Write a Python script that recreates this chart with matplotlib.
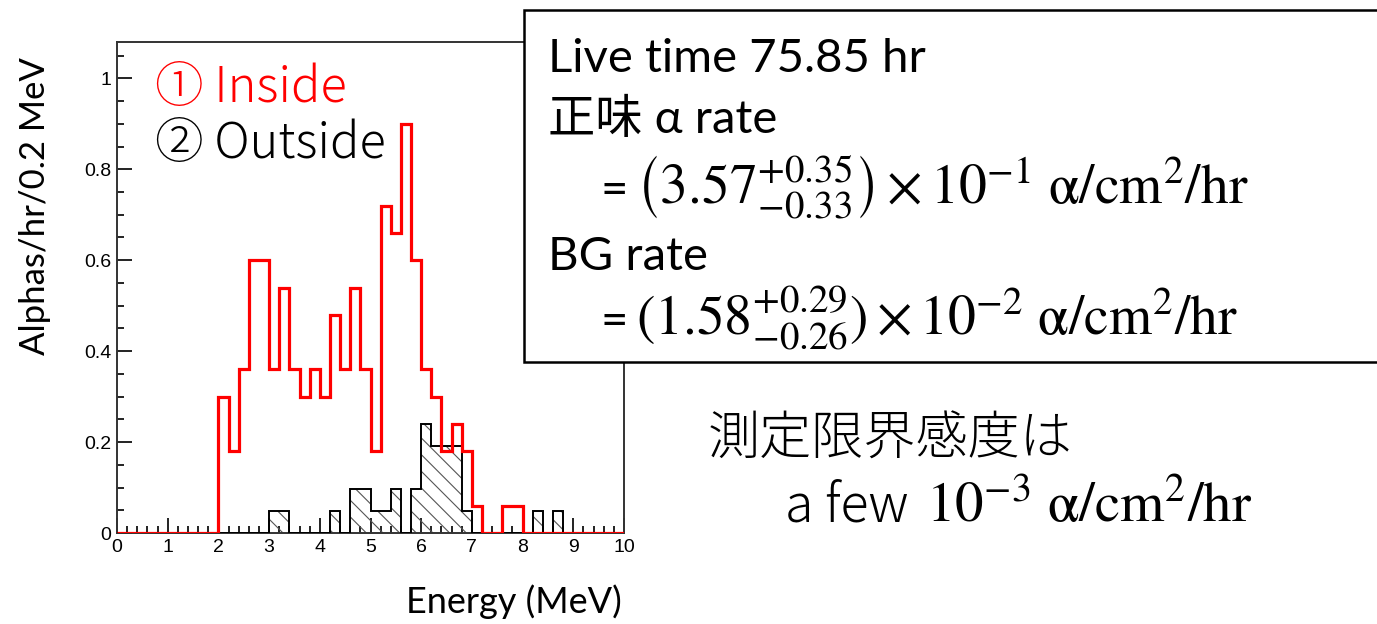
import matplotlib.pyplot as plt
import numpy as np
from matplotlib.patches import Rectangle
from matplotlib.ticker import MultipleLocator, FormatStrFormatter

plt.rcParams['mathtext.fontset'] = 'stix'
plt.rcParams['mathtext.default'] = 'rm'
plt.rcParams['hatch.linewidth'] = 0.8

W, H = 1377, 624

# 0.2 MeV bins from 0 to 10 MeV
edges = np.round(np.arange(0, 10.01, 0.2), 1)

# alpha rate per bin, inside region (Alphas/hr/0.2 MeV)
inside = [0, 0, 0, 0, 0, 0, 0, 0, 0, 0,
          0.30, 0.18, 0.36, 0.60, 0.60, 0.36, 0.54, 0.36, 0.30, 0.36,
          0.30, 0.48, 0.36, 0.54, 0.36, 0.18, 0.72, 0.66, 0.90, 0.60,
          0.36, 0.30, 0.18, 0.24, 0.18, 0.06, 0, 0, 0.06, 0.06,
          0, 0, 0, 0, 0, 0, 0, 0, 0, 0]

# alpha rate per bin, outside region
outside = [0, 0, 0, 0, 0, 0, 0, 0, 0, 0,
           0, 0, 0, 0, 0, 0.048, 0.048, 0, 0, 0,
           0, 0.048, 0, 0.096, 0.096, 0.048, 0.048, 0.096, 0, 0.096,
           0.24, 0.192, 0.192, 0.192, 0.048, 0, 0, 0, 0, 0,
           0, 0.048, 0, 0.048, 0, 0, 0, 0, 0, 0]

x_ticks = [0, 1, 2, 3, 4, 5, 6, 7, 8, 9, 10]
y_ticks = [0, 0.2, 0.4, 0.6, 0.8, 1.0]


def fx(px):
    return px / W


def fy(py):
    return 1 - py / H


fig = plt.figure(figsize=(W / 100, H / 100), dpi=100)
ax = fig.add_axes([fx(117), fy(533), (624 - 117) / W, (533 - 42) / H])

ax.stairs(outside, edges, fill=True, hatch='\\\\', facecolor='none',
          edgecolor='#555555', linewidth=0, zorder=2)
ax.stairs(outside, edges, baseline=0, color='black', linewidth=1.4, zorder=3)
ax.stairs(inside, edges, baseline=0, color='red', linewidth=2.3, zorder=4)

ax.set_xlim(0, 10)
ax.set_ylim(0, 1.08)
ax.set_xticks(x_ticks)
ax.set_yticks(y_ticks)
ax.xaxis.set_minor_locator(MultipleLocator(0.2))
ax.yaxis.set_minor_locator(MultipleLocator(0.05))
ax.yaxis.set_major_formatter(FormatStrFormatter('%g'))
ax.tick_params(which='both', direction='in', top=False, right=False,
               color='#222222', width=1.4)
ax.tick_params(which='major', length=11, labelsize=14, pad=4)
ax.tick_params(which='minor', length=5)
for lab in ax.get_xticklabels() + ax.get_yticklabels():
    lab.set_family('Liberation Sans')
for sp in ax.spines.values():
    sp.set_color('#333333')
    sp.set_linewidth(1.4)

# legend-like labels
jp = ['Noto Sans CJK JP']
fig.text(fx(155), fy(102), '① Inside', color='red', fontsize=35,
         family=jp, fontweight='light', va='baseline')
fig.text(fx(155), fy(158), '② Outside', color='black', fontsize=35,
         family=jp, fontweight='light', va='baseline')

# axis titles
fig.text(fx(35), fy(355), 'Alphas/hr/0.2 MeV', rotation=90, fontsize=25,
         family=['Lato'], ha='center', va='bottom')
fig.text(fx(622), fy(613), 'Energy (MeV)', fontsize=26,
         family=['Lato'], ha='right', va='baseline')

# result box
box = Rectangle((fx(524), fy(362)), fx(900), (362 - 10) / H,
                transform=fig.transFigure, facecolor='white',
                edgecolor='black', linewidth=1.8, zorder=10)
fig.patches.append(box)

sans = ['Lato', 'Noto Sans CJK JP']
fig.text(fx(548), fy(72), 'Live time 75.85 hr', fontsize=34,
         family=sans, va='baseline', zorder=11)
fig.text(fx(548), fy(133), '正味 α rate', fontsize=34,
         family=sans, va='baseline', zorder=11)
fig.text(fx(600), fy(204), '=', fontsize=34, family=sans,
         va='baseline', zorder=11)
fig.text(fx(636), fy(204),
         r'$\left(3.57^{+0.35}_{-0.33}\right)\times10^{-1}\ \alpha/cm^{2}/hr$',
         fontsize=40, va='baseline', zorder=11)
fig.text(fx(548), fy(270), 'BG rate', fontsize=34,
         family=sans, va='baseline', zorder=11)
fig.text(fx(600), fy(335), '=', fontsize=34, family=sans,
         va='baseline', zorder=11)
fig.text(fx(636), fy(335),
         r'$(1.58^{+0.29}_{-0.26})\times10^{-2}\ \alpha/cm^{2}/hr$',
         fontsize=40, va='baseline', zorder=11)

# sensitivity note
fig.text(fx(708), fy(455), '測定限界感度は', fontsize=37.5,
         family=jp, fontweight='light', va='baseline')
fig.text(fx(785), fy(522), 'a few', fontsize=37.5,
         family=jp, fontweight='light', va='baseline')
fig.text(fx(926), fy(522),
         r'$10^{-3}\ \alpha/cm^{2}/hr$',
         fontsize=41, va='baseline')

fig.savefig('out.png', dpi=100)
